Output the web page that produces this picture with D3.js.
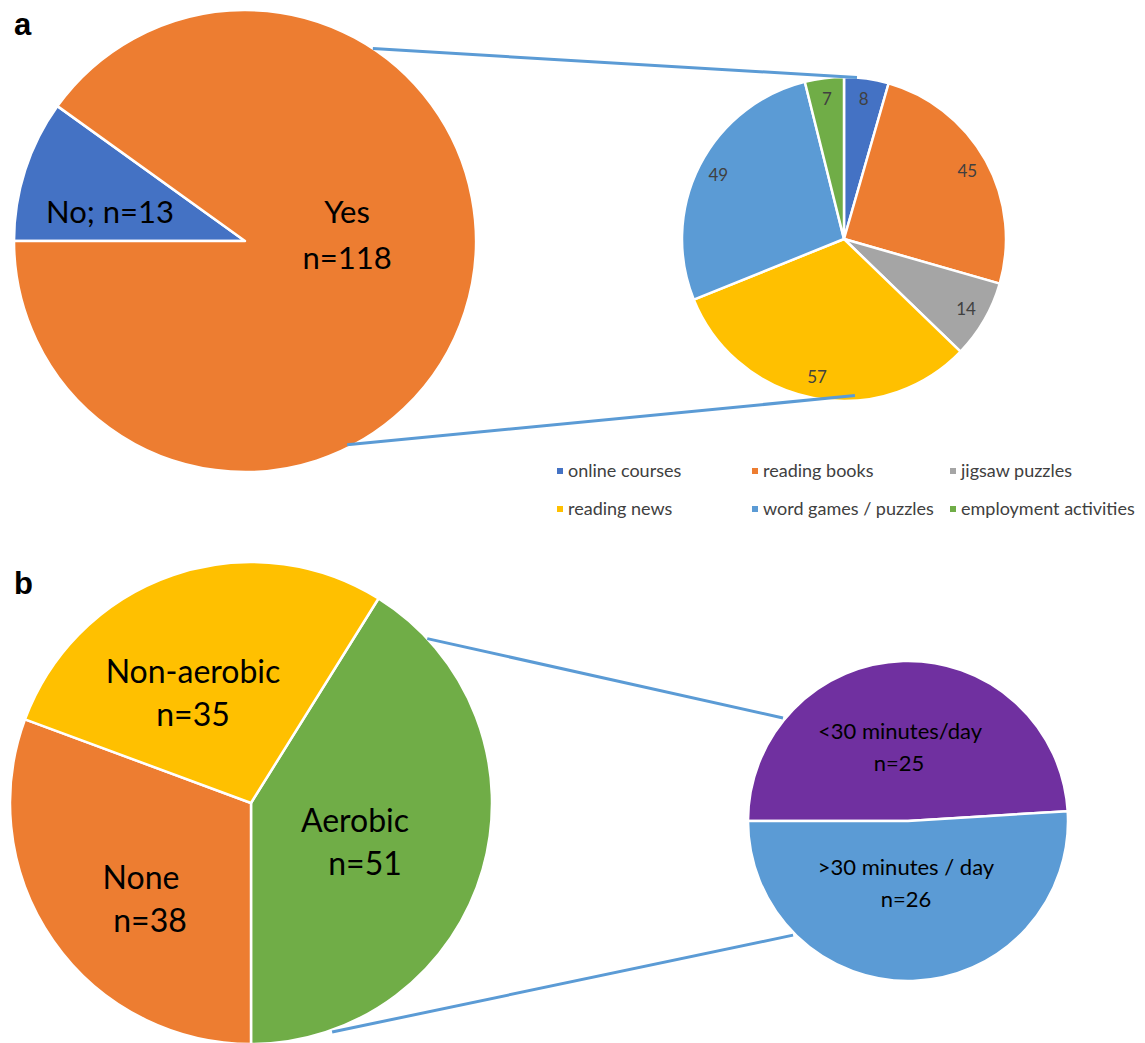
<!DOCTYPE html>
<html><head><meta charset="utf-8">
<script src="https://cdn.jsdelivr.net/npm/d3@7"></script>
<style>body{margin:0;background:#fff}svg{display:block}</style>
</head><body>
<svg id="c" width="1145" height="1043"></svg>
<script>
// Panel a: main pie
const aMainLabels = ["No", "Yes"];
const aMainValues = [13, 118];
// Panel a: secondary pie (activities)
const aSubCategories = ["online courses", "reading books", "jigsaw puzzles", "reading news", "word games / puzzles", "employment activities"];
const aSubValues = [8, 45, 14, 57, 49, 7];
// Panel b: main pie
const bMainLabels = ["Aerobic", "None", "Non-aerobic"];
const bMainValues = [51, 38, 35];
// Panel b: secondary pie
const bSubLabels = ["<30 minutes/day", ">30 minutes / day"];
const bSubValues = [25, 26];

const colors = {
  "No": "#4472C4", "Yes": "#ED7D31",
  "online courses": "#4472C4", "reading books": "#ED7D31", "jigsaw puzzles": "#A5A5A5",
  "reading news": "#FFC000", "word games / puzzles": "#5B9BD5", "employment activities": "#70AD47",
  "Aerobic": "#70AD47", "None": "#ED7D31", "Non-aerobic": "#FFC000",
  "<30 minutes/day": "#7030A0", ">30 minutes / day": "#5B9BD5"
};
const FONT = "Lato, 'Open Sans', sans-serif";
const svg = d3.select("#c");

function drawPie(cx, cy, r, labels, values, startAngle) {
  const pie = d3.pie().sort(null).value(d => d.v).startAngle(startAngle).endAngle(startAngle + 2 * Math.PI);
  const data = pie(labels.map((l, i) => ({ l, v: values[i] })));
  const arc = d3.arc().innerRadius(0).outerRadius(r);
  const g = svg.append("g").attr("transform", `translate(${cx},${cy})`);
  g.selectAll("path").data(data).join("path")
    .attr("d", arc).attr("fill", d => colors[d.data.l])
    .attr("stroke", "#fff").attr("stroke-width", 2.5).attr("stroke-linejoin", "round");
  return { g, data, r, cx, cy };
}
function polar(p, angDeg, rr) {
  const a = angDeg * Math.PI / 180;
  return [p.cx + rr * Math.sin(a), p.cy - rr * Math.cos(a)];
}
function connector(p1, a1, r1, p2, a2, r2) {
  const s = polar(p1, a1, r1), e = polar(p2, a2, r2);
  svg.append("line").attr("x1", s[0]).attr("y1", s[1]).attr("x2", e[0]).attr("y2", e[1])
    .attr("stroke", "#5B9BD5").attr("stroke-width", 3);
}
// lines: array of [text, dx, dy] relative to pie centre (baseline)
function label(g, lines, size, color) {
  lines.forEach(([txt, x, y]) => {
    g.append("text").attr("x", x).attr("y", y).attr("text-anchor", "middle")
      .attr("font-family", FONT).attr("font-size", size).attr("fill", color).text(txt);
  });
}

// ---------- Panel a ----------
const pa = drawPie(245, 241, 231, aMainLabels, aMainValues, -Math.PI / 2);
label(pa.g, [["No; n=" + aMainValues[0], -135, -18]], 31, "#000");
label(pa.g, [["Yes", 102, -18], ["n=" + aMainValues[1], 102, 28]], 31, "#000");

const pas = drawPie(844, 239, 162, aSubCategories, aSubValues, 0);
const subArcLbl = d3.arc().innerRadius(141).outerRadius(141);
pas.g.selectAll("text.v").data(pas.data).join("text").attr("class", "v")
  .attr("transform", d => `translate(${subArcLbl.centroid(d)})`)
  .attr("text-anchor", "middle").attr("dy", "0.35em")
  .attr("font-family", FONT).attr("font-size", 17).attr("fill", "#404040")
  .text(d => d.data.v);

connector(pa, 33.6, 231, pas, 4.6, 162);
connector(pa, 153.4, 228, pas, 176, 157);

// legend
const legX = [557, 752, 950], legY = [471, 509];
const leg = svg.append("g");
aSubCategories.forEach((c, i) => {
  const x = legX[i % 3], y = legY[Math.floor(i / 3)];
  leg.append("rect").attr("x", x).attr("y", y - 3).attr("width", 6).attr("height", 6).attr("fill", colors[c]);
  leg.append("text").attr("x", x + 11).attr("y", y).attr("dy", "0.35em")
    .attr("font-family", FONT).attr("font-size", 18).attr("fill", "#404040").text(c);
});

// ---------- Panel b ----------
const pb = drawPie(251, 803, 241, bMainLabels, bMainValues, Math.PI - 2 * Math.PI * bMainValues[0] / d3.sum(bMainValues));
label(pb.g, [["Aerobic", 104, 29], ["n=" + bMainValues[0], 114, 72]], 32, "#000");
label(pb.g, [["None", -110, 86], ["n=" + bMainValues[1], -101, 129]], 32, "#000");
label(pb.g, [["Non-aerobic", -58, -120], ["n=" + bMainValues[2], -58, -77]], 32, "#000");

const pbs = drawPie(908, 821, 160, bSubLabels, bSubValues, -Math.PI / 2);
label(pbs.g, [["<30 minutes/day", -8, -82], ["n=" + bSubValues[0], -9, -50]], 22, "#000");
label(pbs.g, [[">30 minutes / day", -2, 54], ["n=" + bSubValues[1], -2, 86]], 22, "#000");

connector(pb, 47, 241, pbs, 309.5, 162);
connector(pb, 160.5, 243, pbs, 225.2, 162);

// panel letters
svg.append("text").attr("x", 14).attr("y", 35).attr("font-family", "'Liberation Sans', Arial, sans-serif")
  .attr("font-weight", "bold").attr("font-size", 31).text("a");
svg.append("text").attr("x", 14).attr("y", 594).attr("font-family", "'Liberation Sans', Arial, sans-serif")
  .attr("font-weight", "bold").attr("font-size", 31).text("b");
</script>
</body></html>
